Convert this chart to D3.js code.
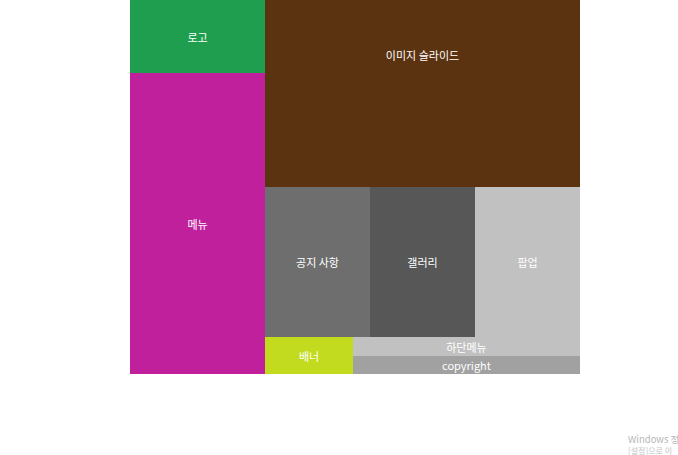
<!DOCTYPE html>
<html><head><meta charset="utf-8">
<script src="https://cdn.jsdelivr.net/npm/d3@7"></script>
<style>body{margin:0;background:#fff;overflow:hidden}</style>
</head><body>
<script>
// Data
const leftNames = ["로고", "메뉴"];
const leftValues = [9.9, 40.6];
const slideName = "이미지 슬라이드";
const slideValue = 58.9;
const middleNames = ["공지 사항", "갤러리", "팝업"];
const middleValues = [15.75, 15.75, 15.75];
const bannerName = "배너";
const bannerValue = 3.26;
const footerNames = ["하단메뉴", "copyright"];
const footerValues = [4.31, 4.09];
const colors = {
  "로고": "#1f9e4f", "메뉴": "#c0209c", "이미지 슬라이드": "#5b3311",
  "공지 사항": "#6e6e6e", "갤러리": "#575757", "팝업": "#c1c1c1",
  "배너": "#c3db1f", "하단메뉴": "#c1c1c1", "copyright": "#a1a1a1"
};

const tree = {name: "root", children: [
  {name: "left", children: leftNames.map((n,i)=>({name:n, value:leftValues[i]}))},
  {name: "right", children: [
    {name: slideName, value: slideValue},
    {name: "middle", children: middleNames.map((n,i)=>({name:n, value:middleValues[i]}))},
    {name: "bottom", children: [
      {name: bannerName, value: bannerValue},
      {name: "footer", children: footerNames.map((n,i)=>({name:n, value:footerValues[i]}))}
    ]}
  ]}
]};

const W = 678, H = 455;
const svg = d3.select("body").append("svg").attr("width", W).attr("height", H);
const root = d3.hierarchy(tree).sum(d => d.value || 0);
d3.treemap().tile(d3.treemapSliceDice).size([450, 374]).round(true)(root);

const g = svg.append("g").attr("transform", "translate(130,0)");
const leaves = g.selectAll("g").data(root.leaves()).join("g")
  .attr("transform", d => `translate(${d.x0},${d.y0})`);
leaves.append("rect")
  .attr("width", d => d.x1 - d.x0).attr("height", d => d.y1 - d.y0)
  .attr("fill", d => colors[d.data.name]);
leaves.append("text")
  .attr("x", d => (d.x1 - d.x0) / 2)
  .attr("y", d => (d.data.name === slideName ? 0.295 : 0.5) * (d.y1 - d.y0))
  .attr("text-anchor", "middle").attr("dominant-baseline", "central")
  .attr("font-family", "'Noto Sans CJK KR', 'Noto Sans', sans-serif")
  .attr("font-size", 11).attr("fill", "#fff")
  .text(d => d.data.name);

// watermark (cut at the window edge in the reference)
svg.append("text").attr("x", 628).attr("y", 443).attr("font-family", "'Noto Sans CJK KR', sans-serif")
  .attr("font-size", 9.5).attr("fill", "#b8b8b8").text("Windows 정");
svg.append("text").attr("x", 628).attr("y", 454).attr("font-family", "'Noto Sans CJK KR', sans-serif")
  .attr("font-size", 8).attr("fill", "#c4c4c4").text("[설정]으로 이");
</script>
</body></html>
